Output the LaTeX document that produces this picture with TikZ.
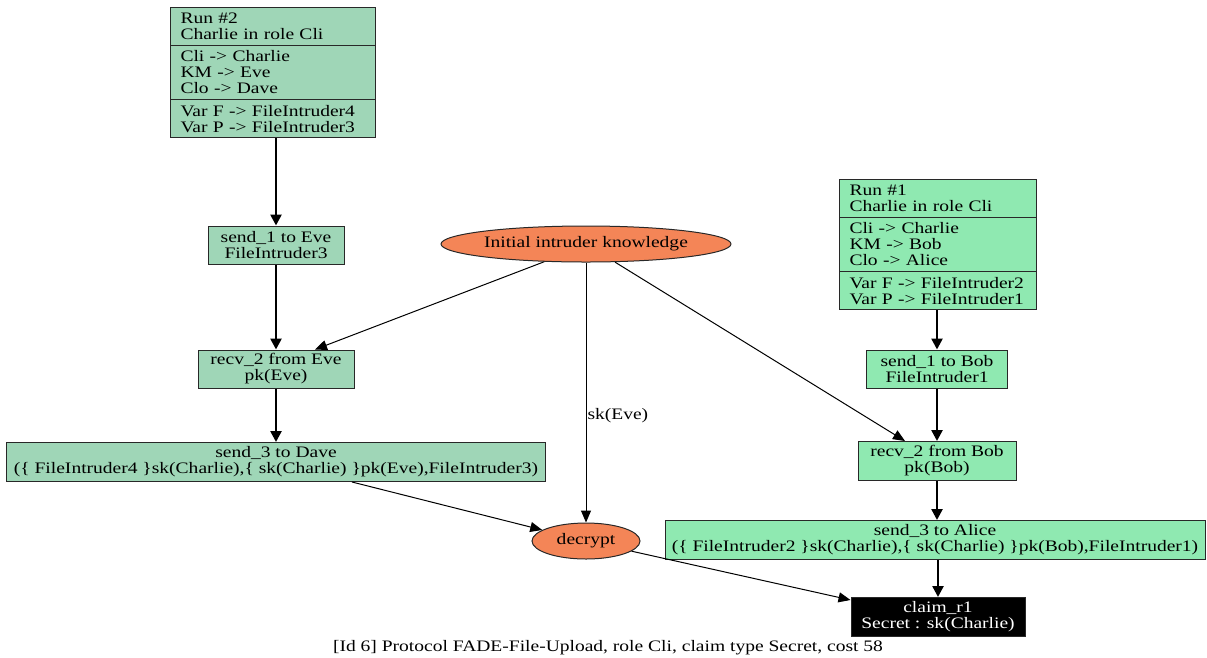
\documentclass[tikz,border=0pt]{standalone}
\usepackage{fontspec}
\setmainfont{Liberation Serif}[FakeStretch=1.22]
\usetikzlibrary{shapes.multipart,shapes.geometric,arrows.meta,calc}
\definecolor{runA}{RGB}{159,214,183}
\definecolor{runB}{RGB}{143,233,177}
\definecolor{intr}{RGB}{244,133,87}
\definecolor{edgeline}{RGB}{40,40,40}
\begin{document}
\begin{tikzpicture}[x=1pt,y=-1pt,
  every node/.style={font=\fontsize{16}{16}\selectfont},
  record/.style={rectangle split, rectangle split parts=3, draw=edgeline, line width=1pt,
    align=left, inner xsep=10pt, inner ysep=5pt, anchor=north west},
  event/.style={rectangle, draw=edgeline, line width=1pt, align=center, inner sep=0pt},
  intruder/.style={ellipse, draw=edgeline, line width=1pt, fill=intr, inner sep=0pt},
  flow/.style={line width=2.5pt, -{Triangle[length=11pt,width=11pt]}},
  know/.style={line width=1pt, -{Triangle[length=12pt,width=10pt]}}]
\useasboundingbox (0,0) rectangle (1207,657);

% run #2 (Charlie talking to Eve/Dave)
\node[record, fill=runA, text width=185pt] (run2) at (170,7)
  {Run \#2\\Charlie in role Cli
   \nodepart{two} Cli -> Charlie\\KM -> Eve\\Clo -> Dave
   \nodepart{three} Var F -> FileIntruder4\\Var P -> FileIntruder3};
\node[event, fill=runA, minimum width=136pt, minimum height=38pt] (s1e) at (276,245)
  {send\_1 to Eve\\FileIntruder3};
\node[event, fill=runA, minimum width=156pt, minimum height=38pt] (r2e) at (276,369)
  {recv\_2 from Eve\\pk(Eve)};
\node[event, fill=runA, minimum width=539pt, minimum height=39pt] (s3d) at (276,462)
  {send\_3 to Dave\\(\{ FileIntruder4 \}sk(Charlie),\{ sk(Charlie) \}pk(Eve),FileIntruder3)};

% run #1 (Charlie talking to Bob/Alice)
\node[record, fill=runB, text width=177pt] (run1) at (839,179)
  {Run \#1\\Charlie in role Cli
   \nodepart{two} Cli -> Charlie\\KM -> Bob\\Clo -> Alice
   \nodepart{three} Var F -> FileIntruder2\\Var P -> FileIntruder1};
\node[event, fill=runB, minimum width=141pt, minimum height=38pt] (s1b) at (937,369)
  {send\_1 to Bob\\FileIntruder1};
\node[event, fill=runB, minimum width=158pt, minimum height=39pt] (r2b) at (937,461)
  {recv\_2 from Bob\\pk(Bob)};
\node[event, fill=runB, minimum width=540pt, minimum height=39pt] (s3a) at (935,540)
  {send\_3 to Alice\\(\{ FileIntruder2 \}sk(Charlie),\{ sk(Charlie) \}pk(Bob),FileIntruder1)};
\node[event, fill=black, text=white, minimum width=174pt, minimum height=39pt] (claim) at (938,617)
  {claim\_r1\\Secret : sk(Charlie)};

% intruder
\node[intruder, minimum width=290pt, minimum height=36pt] (init) at (586,244)
  {Initial intruder knowledge};
\node[intruder, minimum width=108pt, minimum height=36pt] (dec) at (586,541) {decrypt};

\node (caption) at (608,648)
  {[Id 6] Protocol FADE-File-Upload, role Cli, claim type Secret, cost 58};

% run edges
\draw[flow] (run2.south -| s1e) -- (s1e);
\draw[flow] (s1e) -- (r2e);
\draw[flow] (r2e) -- (s3d);
\draw[flow] (run1.south -| s1b) -- (s1b);
\draw[flow] (s1b) -- (r2b);
\draw[flow] (r2b) -- (s3a.north -| r2b);
\draw[flow] (s3a.south -| claim) -- (claim);

% intruder edges
\draw[know] (init.203) -- ($(r2e.north)+(39,0)$);
\draw[know] (init) -- node[pos=0.59, anchor=west, inner sep=1pt] {sk(Eve)} (dec);
\draw[know] (init.328) -- ($(r2b.north)+(-32,0)$);
\draw[know] ($(s3d.south)+(76,0)$) -- (dec);
\draw[know] (dec) -- ($(claim.north west)+(0,3)$);
\end{tikzpicture}
\end{document}
